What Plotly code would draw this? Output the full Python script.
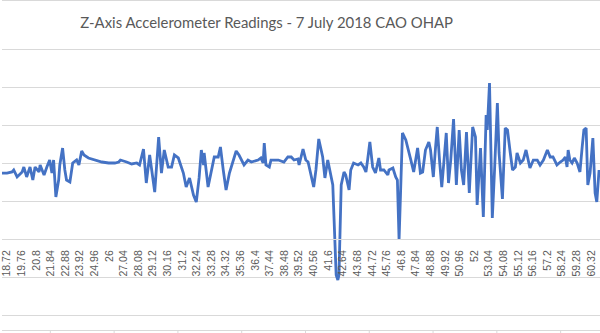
import plotly.graph_objects as go

# Z-axis accelerometer samples: time (s) and reading
time_s = [
    18.36, 18.72, 19.08, 19.20, 19.44, 19.80, 19.92, 20.12, 20.36, 20.56,
    20.72, 21.00, 21.08, 21.36, 21.56, 21.76, 21.92, 22.04, 22.20, 22.40,
    22.48, 22.68, 22.84, 22.96, 23.20, 23.32, 23.40, 23.68, 23.84, 24.04,
    24.20, 24.52, 24.96, 25.48, 25.96, 26.40, 26.68, 26.80, 27.24, 27.60,
    27.96, 28.16, 28.44, 28.64, 28.88, 29.24, 29.52, 29.72, 29.92, 30.20,
    30.44, 30.64, 30.92, 31.28, 31.48, 31.72, 32.00, 32.20, 32.40, 32.56,
    32.72, 32.76, 33.04, 33.28, 33.48, 33.76, 33.92, 34.12, 34.32, 34.56,
    34.84, 35.04, 35.24, 35.60, 35.88, 36.12, 36.60, 36.80, 36.96, 37.04,
    37.16, 37.40, 37.52, 38.04, 38.44, 38.72, 38.96, 39.16, 39.44, 39.52,
    39.80, 40.00, 40.16, 40.36, 40.56, 40.72, 40.92, 41.20, 41.36, 41.56,
    41.80, 41.92, 42.00, 42.16, 42.28, 42.36, 42.44, 42.52, 42.72, 42.84,
    43.00, 43.08, 43.20, 43.40, 43.72, 43.92, 44.12, 44.28, 44.40, 44.56,
    44.76, 44.96, 45.20, 45.32, 45.56, 45.84, 45.92, 46.20, 46.40, 46.52,
    46.64, 46.76, 46.88, 47.12, 47.32, 47.48, 47.68, 47.80, 47.96, 48.16,
    48.32, 48.52, 48.76, 48.88, 49.08, 49.24, 49.36, 49.52, 49.68, 49.80,
    50.00, 50.16, 50.32, 50.52, 50.72, 50.92, 51.08, 51.24, 51.44, 51.64,
    51.88, 52.08, 52.20, 52.44, 52.64, 52.84, 52.92, 53.08, 53.20, 53.28,
    53.44, 53.64, 53.76, 54.00, 54.20, 54.36, 54.56, 54.72, 54.92, 55.04,
    55.28, 55.48, 55.68, 55.96, 56.20, 56.48, 56.68, 56.92, 57.20, 57.40,
    57.60, 57.88, 58.12, 58.32, 58.48, 58.60, 58.68, 58.80, 58.96, 59.12,
    59.32, 59.52, 59.68, 59.80, 59.96, 60.08, 60.24, 60.44, 60.60, 60.72,
    60.88,
]

z_accel = [
    8.68, 8.68, 8.82, 9.08, 8.16, 8.82, 9.47, 8.16, 9.47, 7.76,
    9.47, 8.82, 9.74, 8.42, 9.47, 10.39, 8.68, 10.39, 5.53, 7.76,
    9.74, 11.97, 9.08, 7.76, 7.50, 9.34, 10.00, 10.39, 9.74, 11.58,
    11.05, 10.66, 10.39, 10.13, 10.00, 10.00, 10.13, 10.39, 10.13, 9.87,
    10.00, 9.74, 11.84, 7.37, 11.05, 6.18, 13.42, 8.68, 11.71, 9.47,
    9.47, 11.05, 10.66, 8.68, 6.84, 8.03, 5.79, 4.87, 8.03, 11.71,
    9.74, 11.32, 6.84, 9.08, 10.79, 10.79, 12.11, 9.08, 6.45, 8.68,
    10.39, 11.58, 11.05, 9.74, 10.39, 10.13, 10.39, 10.66, 10.00, 12.63,
    9.74, 9.47, 10.39, 10.39, 10.13, 10.79, 10.79, 10.39, 10.53, 9.74,
    11.84, 10.39, 10.13, 8.68, 6.84, 9.08, 13.16, 10.79, 8.03, 10.39,
    8.42, 7.11, 3.16, -4.74, -5.39, -4.74, 1.18, 7.11, 8.82, 8.42,
    7.11, 6.45, 9.08, 10.00, 9.74, 10.00, 9.47, 8.82, 10.39, 12.76,
    9.47, 8.68, 10.66, 9.08, 9.08, 8.42, 9.08, 9.34, 8.16, 7.76,
    -0.13, 7.11, 13.95, 13.03, 11.32, 10.39, 8.82, 10.39, 11.97, 8.68,
    8.82, 11.71, 12.76, 11.71, 8.16, 12.11, 14.74, 10.39, 6.84, 9.47,
    13.95, 7.37, 10.39, 15.79, 7.11, 14.34, 9.08, 7.11, 14.08, 6.05,
    14.74, 13.42, 4.47, 11.97, 2.89, 16.32, 14.34, 20.53, 10.39, 2.76,
    9.08, 17.89, 11.32, 5.26, 14.61, 14.34, 11.32, 9.08, 9.47, 11.32,
    10.00, 10.39, 11.71, 9.34, 10.39, 10.39, 9.74, 10.39, 11.71, 10.79,
    10.79, 9.74, 10.13, 10.39, 10.79, 9.47, 11.71, 10.39, 10.00, 10.66,
    10.00, 8.82, 12.11, 14.34, 14.61, 7.11, 8.68, 13.29, 6.05, 4.87,
    9.08,
]

# Category labels shown along the time axis
tick_labels = [
    "18.72", "19.76", "20.8", "21.84", "22.88", "23.92", "24.96", "26",
    "27.04", "28.08", "29.12", "30.16", "31.2", "32.24", "33.28", "34.32",
    "35.36", "36.4", "37.44", "38.48", "39.52", "40.56", "41.6", "42.64",
    "43.68", "44.72", "45.76", "46.8", "47.84", "48.88", "49.92", "50.96",
    "52", "53.04", "54.08", "55.12", "56.16", "57.2", "58.24", "59.28",
    "60.32",
]

TITLE = "Z-Axis Accelerometer Readings - 7 July 2018 CAO OHAP"

GRID = "#d9d9d9"
TEXT = "#595959"
LINE = "#4472c4"

y_lo, y_hi = -10.263, 25.263
x_lo, x_hi = 18.365, 60.948

fig = go.Figure(
    go.Scatter(
        x=time_s,
        y=z_accel,
        mode="lines",
        line=dict(color=LINE, width=2.8),
        hoverinfo="x+y",
    )
)

plot_top, plot_bot = 47, 317
plot_h = plot_bot - plot_top


def paper_y(px):
    return (plot_bot - px) / plot_h


shapes = [
    # chart frame edge at the top and the sheet row border at the bottom
    dict(type="line", xref="paper", yref="paper", x0=0, x1=1,
         y0=paper_y(0.5), y1=paper_y(0.5), line=dict(color=GRID, width=1)),
    dict(type="line", xref="paper", yref="paper", x0=0, x1=1,
         y0=paper_y(330.5), y1=paper_y(330.5), line=dict(color=GRID, width=1)),
]
for cx in [48, 112, 176, 240, 304, 368, 432, 496, 560]:
    shapes.append(dict(type="line", xref="paper", yref="paper",
                       x0=(cx + 0.5) / 600, x1=(cx + 0.5) / 600,
                       y0=paper_y(330.5), y1=paper_y(334),
                       line=dict(color=GRID, width=1)))

fig.update_layout(
    width=600,
    height=333,
    margin=dict(l=0, r=0, t=plot_top, b=333 - plot_bot, pad=0),
    paper_bgcolor="white",
    plot_bgcolor="white",
    showlegend=False,
    title=dict(
        text=TITLE,
        x=265.5 / 600,
        xanchor="center",
        xref="paper",
        y=1 - 22.5 / 333,
        yref="container",
        yanchor="middle",
        font=dict(family="Lato, Open Sans, sans-serif", size=14.9, color=TEXT),
    ),
    xaxis=dict(
        range=[x_lo, x_hi],
        tickvals=[float(s) for s in tick_labels],
        ticktext=tick_labels,
        tickangle=-90,
        ticks="",
        ticklabelstandoff=6,
        ticklabeloverflow="allow",
        tickfont=dict(family="Liberation Sans, Arial, sans-serif", size=10.5, color=TEXT),
        showgrid=False,
        zeroline=False,
        showline=True,
        linecolor=GRID,
        linewidth=1,
        anchor="free",
        position=(0 - y_lo) / (y_hi - y_lo),
    ),
    yaxis=dict(
        range=[y_lo, y_hi],
        dtick=5,
        tick0=0,
        showgrid=True,
        gridcolor=GRID,
        gridwidth=1,
        zeroline=False,
        showticklabels=False,
        ticks="",
    ),
    shapes=shapes,
)

fig.write_html("out.html")
